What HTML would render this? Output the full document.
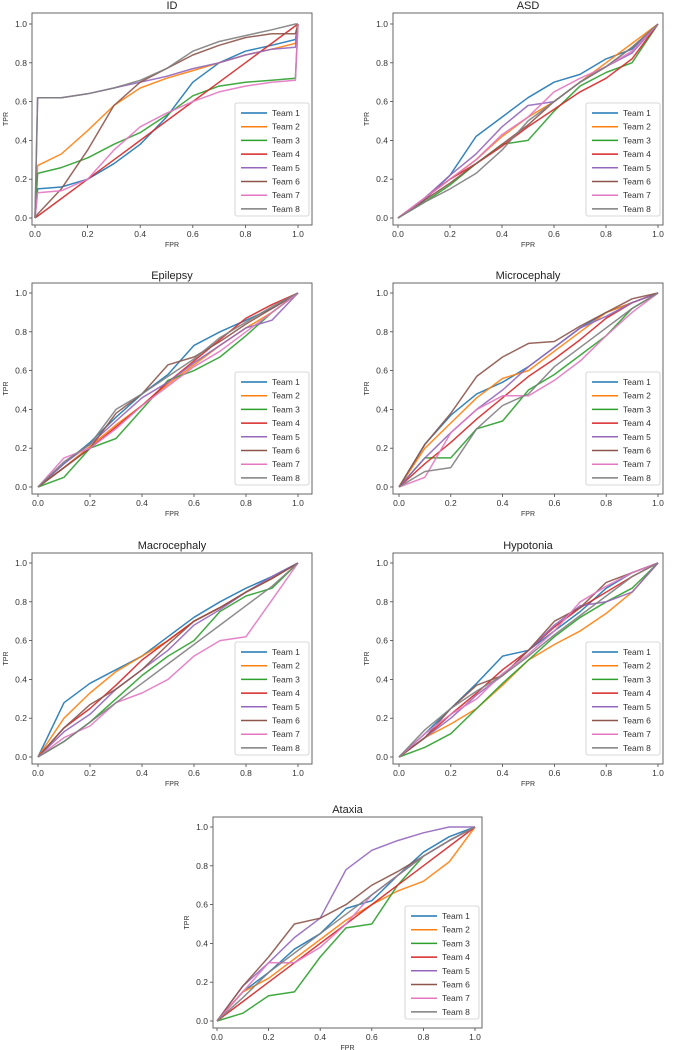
<!DOCTYPE html>
<html><head><meta charset="utf-8">
<style>
html,body{margin:0;padding:0;background:#fff;}
svg{display:block;font-family:"Liberation Sans",sans-serif;}
</style></head>
<body>
<svg id="fig" width="675" height="1050" viewBox="0 0 675 1050" xmlns="http://www.w3.org/2000/svg"></svg>
<script>
const teams = ["Team 1","Team 2","Team 3","Team 4","Team 5","Team 6","Team 7","Team 8"];
const colors = ["#1f77b4","#ff7f0e","#2ca02c","#d62728","#9467bd","#8c564b","#e377c2","#7f7f7f"];
const ticks = [0,0.2,0.4,0.6,0.8,1.0];
const tickLabels = ["0.0","0.2","0.4","0.6","0.8","1.0"];
const fprId = [0,0.01,0.1,0.2,0.3,0.4,0.5,0.6,0.7,0.8,0.9,0.99,1];
const fprStd = [0,0.1,0.2,0.3,0.4,0.5,0.6,0.7,0.8,0.9,1];

const tprID = [
 [0,0.15,0.16,0.2,0.28,0.38,0.52,0.7,0.8,0.86,0.89,0.92,1],
 [0,0.27,0.33,0.45,0.58,0.67,0.72,0.76,0.8,0.84,0.87,0.9,1],
 [0,0.23,0.26,0.31,0.38,0.44,0.53,0.63,0.68,0.7,0.71,0.72,1],
 [0,0.01,0.1,0.2,0.3,0.4,0.5,0.6,0.7,0.8,0.9,0.99,1],
 [0,0.62,0.62,0.64,0.67,0.7,0.73,0.77,0.8,0.84,0.87,0.88,1],
 [0,0.02,0.15,0.35,0.58,0.7,0.77,0.84,0.89,0.93,0.95,0.95,1],
 [0,0.13,0.14,0.2,0.35,0.47,0.54,0.6,0.65,0.68,0.7,0.71,1],
 [0,0.62,0.62,0.64,0.67,0.71,0.77,0.86,0.91,0.94,0.97,1,1]
];
const tprASD = [
 [0,0.09,0.22,0.42,0.52,0.62,0.7,0.74,0.82,0.87,1],
 [0,0.1,0.2,0.3,0.42,0.52,0.6,0.7,0.8,0.9,1],
 [0,0.08,0.17,0.28,0.38,0.4,0.55,0.68,0.75,0.8,1],
 [0,0.1,0.2,0.28,0.37,0.47,0.56,0.65,0.72,0.82,1],
 [0,0.1,0.22,0.33,0.47,0.58,0.6,0.7,0.78,0.85,1],
 [0,0.09,0.18,0.28,0.38,0.48,0.6,0.7,0.78,0.88,1],
 [0,0.1,0.2,0.3,0.43,0.52,0.65,0.72,0.78,0.86,1],
 [0,0.08,0.15,0.23,0.35,0.5,0.6,0.7,0.78,0.88,1]
];
const tprEpilepsy = [
 [0,0.12,0.23,0.36,0.48,0.58,0.73,0.8,0.86,0.92,1],
 [0,0.1,0.21,0.32,0.42,0.53,0.63,0.73,0.82,0.9,1],
 [0,0.05,0.2,0.25,0.4,0.55,0.6,0.67,0.78,0.9,1],
 [0,0.1,0.2,0.31,0.42,0.54,0.65,0.76,0.87,0.94,1],
 [0,0.12,0.22,0.34,0.46,0.54,0.64,0.73,0.82,0.86,1],
 [0,0.1,0.2,0.38,0.48,0.63,0.67,0.75,0.84,0.92,1],
 [0,0.15,0.2,0.3,0.42,0.52,0.62,0.7,0.8,0.9,1],
 [0,0.13,0.22,0.4,0.48,0.57,0.66,0.77,0.85,0.93,1]
];
const tprMicro = [
 [0,0.22,0.37,0.48,0.54,0.62,0.72,0.82,0.9,0.95,1],
 [0,0.2,0.33,0.46,0.56,0.6,0.7,0.8,0.9,0.95,1],
 [0,0.15,0.15,0.3,0.34,0.5,0.58,0.68,0.78,0.92,1],
 [0,0.12,0.23,0.35,0.46,0.57,0.66,0.76,0.87,0.95,1],
 [0,0.15,0.28,0.4,0.5,0.62,0.72,0.82,0.88,0.95,1],
 [0,0.22,0.38,0.57,0.67,0.74,0.75,0.83,0.9,0.97,1],
 [0,0.05,0.28,0.4,0.47,0.47,0.55,0.65,0.78,0.9,1],
 [0,0.08,0.1,0.3,0.42,0.48,0.62,0.72,0.82,0.92,1]
];
const tprMacro = [
 [0,0.28,0.38,0.45,0.52,0.62,0.72,0.8,0.87,0.93,1],
 [0,0.2,0.33,0.44,0.52,0.6,0.7,0.77,0.85,0.92,1],
 [0,0.08,0.18,0.3,0.42,0.52,0.6,0.75,0.83,0.87,1],
 [0,0.15,0.25,0.37,0.5,0.6,0.7,0.77,0.85,0.92,1],
 [0,0.13,0.22,0.35,0.45,0.55,0.68,0.76,0.85,0.93,1],
 [0,0.15,0.27,0.35,0.45,0.58,0.7,0.77,0.85,0.92,1],
 [0,0.1,0.16,0.28,0.33,0.4,0.52,0.6,0.62,0.81,1],
 [0,0.08,0.18,0.28,0.38,0.48,0.58,0.68,0.78,0.88,1]
];
const tprHypo = [
 [0,0.12,0.25,0.38,0.52,0.55,0.65,0.75,0.87,0.95,1],
 [0,0.1,0.17,0.25,0.37,0.5,0.58,0.65,0.74,0.85,1],
 [0,0.05,0.12,0.25,0.38,0.5,0.62,0.72,0.8,0.87,1],
 [0,0.1,0.22,0.33,0.45,0.55,0.67,0.77,0.85,0.93,1],
 [0,0.1,0.2,0.32,0.42,0.55,0.68,0.78,0.8,0.85,1],
 [0,0.1,0.25,0.37,0.42,0.55,0.7,0.77,0.9,0.95,1],
 [0,0.12,0.22,0.3,0.43,0.53,0.65,0.8,0.88,0.95,1],
 [0,0.14,0.25,0.34,0.42,0.52,0.63,0.73,0.83,0.93,1]
];
const tprAtaxia = [
 [0,0.15,0.25,0.37,0.45,0.58,0.62,0.75,0.87,0.95,1],
 [0,0.15,0.22,0.32,0.42,0.52,0.6,0.67,0.72,0.82,1],
 [0,0.04,0.13,0.15,0.33,0.48,0.5,0.7,0.85,0.93,1],
 [0,0.1,0.2,0.3,0.4,0.5,0.6,0.7,0.8,0.9,1],
 [0,0.18,0.3,0.43,0.53,0.78,0.88,0.93,0.97,1,1],
 [0,0.18,0.33,0.5,0.53,0.6,0.7,0.77,0.85,0.93,1],
 [0,0.15,0.3,0.3,0.38,0.5,0.65,0.75,0.85,0.93,1],
 [0,0.12,0.25,0.35,0.45,0.55,0.65,0.75,0.85,0.93,1]
];

const panels = [
 {title:"ID", name:"id", fpr:fprId, tpr:tprID, fl:32, fr:312, ft:13, fb:225, x0:35, x1:298, y1:24, y0:218},
 {title:"ASD", name:"asd", fpr:fprStd, tpr:tprASD, fl:393, fr:663, ft:13, fb:225, x0:398, x1:658, y1:24, y0:218},
 {title:"Epilepsy", name:"epilepsy", fpr:fprStd, tpr:tprEpilepsy, fl:32, fr:312, ft:283, fb:494, x0:38, x1:298, y1:293, y0:487},
 {title:"Microcephaly", name:"microcephaly", fpr:fprStd, tpr:tprMicro, fl:393, fr:663, ft:283, fb:494, x0:399, x1:658, y1:293, y0:487},
 {title:"Macrocephaly", name:"macrocephaly", fpr:fprStd, tpr:tprMacro, fl:32, fr:312, ft:553, fb:764, x0:38, x1:298, y1:563, y0:757},
 {title:"Hypotonia", name:"hypotonia", fpr:fprStd, tpr:tprHypo, fl:393, fr:663, ft:553, fb:764, x0:399, x1:658, y1:563, y0:757},
 {title:"Ataxia", name:"ataxia", fpr:fprStd, tpr:tprAtaxia, fl:213, fr:482, ft:817, fb:1028, x0:217, x1:475, y1:827, y0:1021}
];

const NS = "http://www.w3.org/2000/svg";
const fig = document.getElementById("fig");
function mk(tag, attrs, parent){
  const e = document.createElementNS(NS, tag);
  for (const k in attrs) e.setAttribute(k, attrs[k]);
  parent.appendChild(e);
  return e;
}

panels.forEach(p => {
  const g = mk("g", {}, fig);
  
  
  const sx = v => p.x0 + v * (p.x1 - p.x0);
  const sy = v => p.y0 - v * (p.y0 - p.y1);

  const t = mk("text", {x:(p.fl+p.fr)/2, y:p.ft-4, "text-anchor":"middle", "font-size":"11", fill:"#222"}, g);
  t.textContent = p.title;
  
  

  ticks.forEach((v,i) => {
    mk("line", {x1:sx(v), x2:sx(v), y1:p.fb, y2:p.fb+3, stroke:"#444", "stroke-width":0.8}, g);
    const xl = mk("text", {x:sx(v), y:p.fb+12, "text-anchor":"middle", "font-size":"8.5", fill:"#333"}, g);
    xl.textContent = tickLabels[i];
    
    
    mk("line", {x1:p.fl-3, x2:p.fl, y1:sy(v), y2:sy(v), stroke:"#444", "stroke-width":0.8}, g);
    const yl = mk("text", {x:p.fl-5, y:sy(v)+3, "text-anchor":"end", "font-size":"8.5", fill:"#333"}, g);
    yl.textContent = tickLabels[i];
    
    
  });

  const xt = mk("text", {x:(p.fl+p.fr)/2, y:p.fb+22, "text-anchor":"middle", "font-size":"7", fill:"#333"}, g);
  xt.textContent = "FPR";
  
  
  const yx = p.fl - 24, yy = (p.ft+p.fb)/2;
  const yt = mk("text", {x:yx, y:yy, "text-anchor":"middle", "font-size":"7", fill:"#333", transform:`rotate(-90 ${yx} ${yy})`}, g);
  yt.textContent = "TPR";
  
  

  p.tpr.forEach((ys, ti) => {
    const pts = ys.map((y,i) => sx(p.fpr[i]).toFixed(1) + "," + sy(y).toFixed(1)).join(" ");
    const pl = mk("polyline", {points:pts, fill:"none", stroke:colors[ti], "stroke-width":1.5, "stroke-linejoin":"round", "stroke-opacity":0.9}, g);
    
    
  });

  const fr = mk("rect", {x:p.fl, y:p.ft, width:p.fr-p.fl, height:p.fb-p.ft, fill:"none", stroke:"#555", "stroke-width":0.9}, g);
  
  

  const lg = mk("g", {}, g);
  
  
  const lx = p.fr - 77, lb = p.fb - 9, lh = 113;
  mk("rect", {x:lx, y:lb-lh, width:74, height:lh, fill:"#fff", "fill-opacity":0.85, stroke:"#ccc", "stroke-width":0.8, rx:2}, lg);
  teams.forEach((name, ti) => {
    const cy = lb - lh + 10 + ti * 13.7;
    const e = mk("g", {}, lg);
    
    
    mk("line", {x1:lx+6, x2:lx+32, y1:cy, y2:cy, stroke:colors[ti], "stroke-width":1.5}, e);
    const tx = mk("text", {x:lx+37, y:cy+3, "font-size":"8.5", fill:"#333"}, e);
    tx.textContent = name;
  });
});
</script>
</body></html>
